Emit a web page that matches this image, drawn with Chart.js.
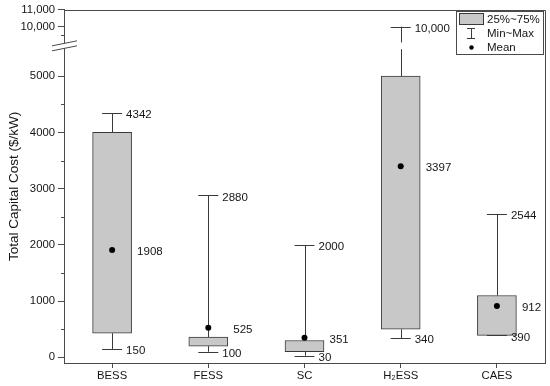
<!DOCTYPE html>
<html>
<head>
<meta charset="utf-8">
<script src="https://cdn.jsdelivr.net/npm/chart.js@4"></script>
<style>
html,body{margin:0;padding:0;background:#fff;}
#c{display:block;}
</style>
</head>
<body>
<canvas id="c" width="550" height="386"></canvas>
<script>
// ---- data ----
const categories = ['BESS', 'FESS', 'SC', 'H\u2082ESS', 'CAES'];
const minVals  = [150, 100, 30, 340, 390];
const q1Vals   = [430, 200, 100, 500, 390];
const q3Vals   = [4000, 360, 300, 5000, 1100];
const maxVals  = [4342, 2880, 2000, 10000, 2544];
const meanVals = [1908, 525, 351, 3397, 912];
const minLabels  = ['150', '100', '30', '340', '390'];
const maxLabels  = ['4342', '2880', '2000', '10,000', '2544'];
const meanLabels = ['1908', '525', '351', '3397', '912'];
const yTickValues = [0, 1000, 2000, 3000, 4000, 5000, 10000, 11000];
const yTickLabels = ['0', '1000', '2000', '3000', '4000', '5000', '10,000', '11,000'];
const yMinorValues = [500, 1500, 2500, 3500, 4500, 9500];
const legendLabels = ['25%~75%', 'Min~Max', 'Mean'];

// ---- broken axis mapping ----
const LOW_MIN = -100, LOW_MAX = 5480, UP_MIN = 9060, UP_MAX = 11000, GAP = 118, RATIO = 0.3;
function brk(v) {
  if (v <= LOW_MAX) return v;
  return LOW_MAX + GAP + (v - UP_MIN) * RATIO;
}

const FONT = '"Liberation Sans", Arial, sans-serif';
const TXT = '#151515';
const AX = '#4a4a4a';
const BOXLINE = '#3a3a3a';

const boxPlugin = {
  id: 'boxPlugin',
  beforeDatasetsDraw(chart) {
    const ctx = chart.ctx, x = chart.scales.x, y = chart.scales.y;
    ctx.save();
    ctx.strokeStyle = BOXLINE;
    ctx.lineWidth = 1;
    const seg = (cx, a, b) => {
      const lo = Math.min(a, b), hi = Math.max(a, b);
      const parts = (lo < LOW_MAX && hi > UP_MIN) ? [[lo, LOW_MAX], [UP_MIN, hi]] : [[lo, hi]];
      parts.forEach(p => {
        ctx.beginPath();
        ctx.moveTo(Math.round(cx) + 0.5, y.getPixelForValue(brk(p[0])));
        ctx.lineTo(Math.round(cx) + 0.5, y.getPixelForValue(brk(p[1])));
        ctx.stroke();
      });
    };
    categories.forEach((c, i) => {
      const cx = x.getPixelForValue(i);
      seg(cx, q3Vals[i], maxVals[i]);
      seg(cx, minVals[i], q1Vals[i]);
      [minVals[i], maxVals[i]].forEach(v => {
        const py = Math.round(y.getPixelForValue(brk(v))) + 0.5;
        ctx.beginPath();
        ctx.moveTo(cx - 10, py);
        ctx.lineTo(cx + 10, py);
        ctx.stroke();
      });
    });
    ctx.restore();
  },
  afterDatasetsDraw(chart) {
    const ctx = chart.ctx, x = chart.scales.x, y = chart.scales.y;
    ctx.save();
    ctx.fillStyle = TXT;
    ctx.font = '11.5px ' + FONT;
    ctx.textAlign = 'left';
    ctx.textBaseline = 'middle';
    categories.forEach((c, i) => {
      const cx = x.getPixelForValue(i);
      ctx.fillText(maxLabels[i], cx + 14, y.getPixelForValue(brk(maxVals[i])) + 2);
      ctx.fillText(minLabels[i], cx + 14, y.getPixelForValue(brk(minVals[i])) + 2);
      ctx.fillText(meanLabels[i], cx + 25, y.getPixelForValue(brk(meanVals[i])) + 2);
    });
    ctx.restore();
  },
  afterDraw(chart) {
    const ctx = chart.ctx, a = chart.chartArea, y = chart.scales.y;
    ctx.save();
    // frame (top & right)
    ctx.strokeStyle = AX;
    ctx.lineWidth = 1;
    ctx.beginPath();
    ctx.moveTo(a.left, Math.round(a.top) + 0.5);
    ctx.lineTo(Math.round(a.right) + 0.5, Math.round(a.top) + 0.5);
    ctx.lineTo(Math.round(a.right) + 0.5, a.bottom);
    ctx.stroke();
    // minor ticks
    yMinorValues.forEach(v => {
      const py = Math.round(y.getPixelForValue(brk(v))) + 0.5;
      ctx.beginPath();
      ctx.moveTo(a.left - 3, py);
      ctx.lineTo(a.left, py);
      ctx.stroke();
    });
    // axis break marks
    const yc = (y.getPixelForValue(brk(LOW_MAX)) + y.getPixelForValue(brk(UP_MIN))) / 2;
    const x0 = a.left - 12, x1 = a.left + 13, dy = 2.5, sl = 2.5;
    ctx.fillStyle = '#fff';
    ctx.beginPath();
    ctx.moveTo(x0, yc - dy + sl);
    ctx.lineTo(x1, yc - dy - sl);
    ctx.lineTo(x1, yc + dy - sl);
    ctx.lineTo(x0, yc + dy + sl);
    ctx.closePath();
    ctx.fill();
    ctx.strokeStyle = AX;
    ctx.beginPath();
    ctx.moveTo(x0, yc - dy + sl); ctx.lineTo(x1, yc - dy - sl);
    ctx.moveTo(x0, yc + dy + sl); ctx.lineTo(x1, yc + dy - sl);
    ctx.stroke();
    // legend
    const lx = 456, ly = 11, lw = 87, lh = 43;
    ctx.fillStyle = '#fff';
    ctx.fillRect(lx, ly, lw, lh);
    ctx.strokeStyle = AX;
    ctx.strokeRect(lx + 0.5, ly + 0.5, lw, lh);
    ctx.fillStyle = '#c8c8c8';
    ctx.fillRect(459, 13, 24, 11);
    ctx.strokeStyle = BOXLINE;
    ctx.strokeRect(459.5, 13.5, 24, 11);
    ctx.beginPath();
    ctx.moveTo(467, 28.5); ctx.lineTo(475, 28.5);
    ctx.moveTo(471.5, 28.5); ctx.lineTo(471.5, 38.5);
    ctx.moveTo(467, 38.5); ctx.lineTo(475, 38.5);
    ctx.stroke();
    ctx.fillStyle = '#000';
    ctx.beginPath();
    ctx.arc(471.5, 47.5, 2.2, 0, Math.PI * 2);
    ctx.fill();
    ctx.fillStyle = TXT;
    ctx.font = '11.5px ' + FONT;
    ctx.textAlign = 'left';
    ctx.textBaseline = 'middle';
    ctx.fillText(legendLabels[0], 487, 19.5);
    ctx.fillText(legendLabels[1], 487, 33.5);
    ctx.fillText(legendLabels[2], 487, 47.5);
    ctx.restore();
  }
};

new Chart(document.getElementById('c'), {
  type: 'bar',
  data: {
    labels: categories,
    datasets: [
      {
        type: 'bar',
        label: '25%~75%',
        data: categories.map((c, i) => [brk(q1Vals[i]), brk(q3Vals[i])]),
        backgroundColor: '#c8c8c8',
        borderColor: BOXLINE,
        borderWidth: 1,
        borderSkipped: false,
        barThickness: 39,
        order: 2
      },
      {
        type: 'line',
        label: 'Mean',
        data: meanVals.map(brk),
        showLine: false,
        pointRadius: 3,
        pointBackgroundColor: '#000',
        pointBorderColor: '#000',
        pointBorderWidth: 0,
        order: 1
      }
    ]
  },
  options: {
    responsive: false,
    animation: false,
    devicePixelRatio: 1,
    layout: { padding: { left: 0, right: 5, top: 7, bottom: 0 } },
    plugins: { legend: { display: false }, tooltip: { enabled: false } },
    scales: {
      x: {
        type: 'category',
        offset: true,
        grid: { display: true, drawOnChartArea: false, offset: false, tickLength: 5, color: AX },
        border: { display: true, color: AX, width: 1 },
        ticks: { color: TXT, font: { family: FONT, size: 11.3 }, padding: 1, maxRotation: 0 },
        afterFit(s) { s.height = 23; }
      },
      y: {
        type: 'linear',
        min: LOW_MIN,
        max: brk(UP_MAX),
        grid: { display: true, drawOnChartArea: false, tickLength: 6, color: AX },
        border: { display: true, color: AX, width: 1 },
        afterBuildTicks(s) { s.ticks = yTickValues.map(v => ({ value: brk(v) })); },
        ticks: {
          autoSkip: false,
          color: TXT,
          font: { family: FONT, size: 11.3 },
          padding: 3,
          callback: (v, i) => yTickLabels[i]
        },
        title: {
          display: true,
          text: 'Total Capital Cost ($/kW)',
          color: TXT,
          font: { family: FONT, size: 13.5 },
          padding: { top: 6, bottom: 0 }
        },
        afterFit(s) { s.width = 64; }
      }
    }
  },
  plugins: [boxPlugin]
});
</script>
</body>
</html>
